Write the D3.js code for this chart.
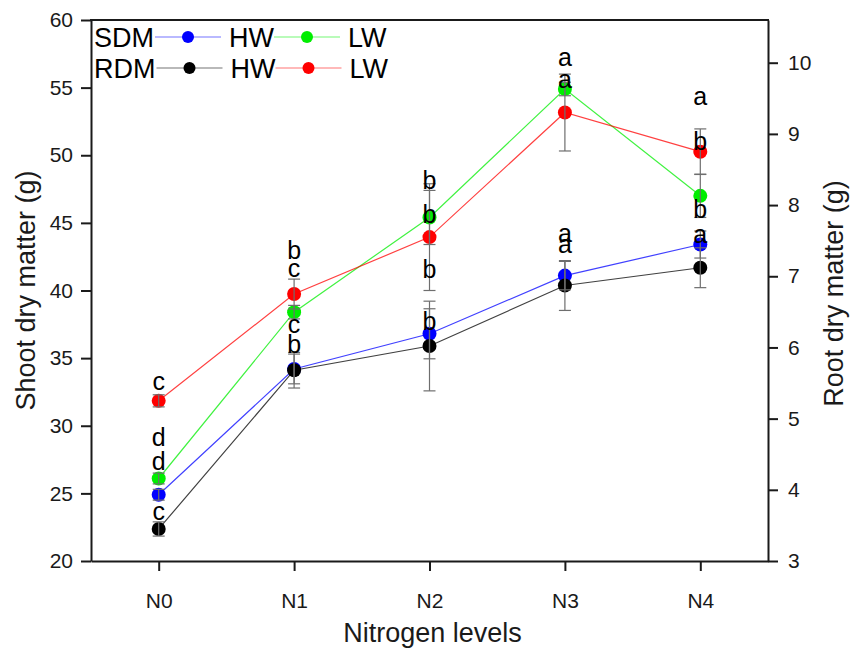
<!DOCTYPE html>
<html>
<head>
<meta charset="utf-8">
<script src="https://cdn.jsdelivr.net/npm/d3@7"></script>
<style>
  html, body { margin: 0; padding: 0; background: #fff; }
  svg { display: block; font-family: "Liberation Sans", Arial, sans-serif; }
</style>
</head>
<body>
<svg id="chart" width="852" height="648"></svg>
<script>
// Nitrogen treatments on the x axis
const categories = ["N0", "N1", "N2", "N3", "N4"];

// Shoot dry matter (left axis, g)
const sdmHW    = [24.9, 34.2, 36.8, 41.1, 43.4];
const sdmHWErr = [0.4, 1.1, 1.85, 1.05, 1.0];
const sdmLW    = [26.1, 38.4, 45.4, 54.9, 47.0];
const sdmLWErr = [0.4, 0.5, 2.0, 0.5, 1.6];

// Root dry matter (right axis, g)
const rdmHW    = [3.45, 5.68, 6.02, 6.87, 7.12];
const rdmHWErr = [0.1, 0.25, 0.63, 0.35, 0.28];
const rdmLW    = [5.25, 6.75, 7.55, 9.30, 8.75];
const rdmLWErr = [0.085, 0.21, 0.75, 0.54, 0.32];

// Tick values
const leftTicks  = [20, 25, 30, 35, 40, 45, 50, 55, 60];
const rightTicks = [3, 4, 5, 6, 7, 8, 9, 10];

// Significance letters per nitrogen level and the left-axis level they sit at
const sigLetters = [
  ["c", "d", "d", "c"],
  ["b", "c", "c", "b"],
  ["b", "b", "b", "b"],
  ["a", "a", "a", "a"],
  ["a", "b", "b", "a"]
];
const sigLevels = [
  [33.26, 29.09, 27.34, 23.65],
  [42.94, 41.64, 37.50, 35.97],
  [48.12, 45.58, 41.57, 37.69],
  [57.19, 55.56, 44.23, 43.36],
  [54.33, 51.00, 45.95, 44.10]
];

const svg = d3.select("#chart");
const plot = { left: 91, right: 768, top: 20, bottom: 561 };

const x  = d3.scalePoint().domain(categories).range([plot.left, plot.right]).padding(0.5);
const yL = d3.scaleLinear().domain([20, 60]).range([plot.bottom, plot.top]);
const yR = d3.scaleLinear().domain([3, 10.6]).range([plot.bottom, plot.top]);

const series = [
  { name: "SDM HW", vals: sdmHW, err: sdmHWErr, y: yL, color: "#0000ff" },
  { name: "SDM LW", vals: sdmLW, err: sdmLWErr, y: yL, color: "#00ee00" },
  { name: "RDM HW", vals: rdmHW, err: rdmHWErr, y: yR, color: "#000000" },
  { name: "RDM LW", vals: rdmLW, err: rdmLWErr, y: yR, color: "#ff0000" }
];

// Connecting lines
const lineGen = s => d3.line().x((d, i) => x(categories[i])).y(d => s.y(d));
svg.append("g").selectAll("path").data(series).join("path")
  .attr("d", s => lineGen(s)(s.vals))
  .attr("fill", "none")
  .attr("stroke", s => s.color)
  .attr("stroke-opacity", 0.75)
  .attr("stroke-width", 1.2);

// Markers
series.forEach(s => {
  svg.append("g").selectAll("circle").data(s.vals).join("circle")
    .attr("cx", (d, i) => x(categories[i]))
    .attr("cy", d => s.y(d))
    .attr("r", 7)
    .attr("fill", s.color);
});

// Error bars
const capW = 6;
series.forEach(s => {
  const g = svg.append("g").attr("stroke", "#6e6e6e").attr("stroke-width", 1.2).attr("fill", "none");
  s.vals.forEach((v, i) => {
    const cx = x(categories[i]);
    const y1 = s.y(v + s.err[i]), y0 = s.y(v - s.err[i]);
    g.append("line").attr("x1", cx).attr("x2", cx).attr("y1", y1).attr("y2", y0);
    g.append("line").attr("x1", cx - capW).attr("x2", cx + capW).attr("y1", y1).attr("y2", y1);
    g.append("line").attr("x1", cx - capW).attr("x2", cx + capW).attr("y1", y0).attr("y2", y0);
  });
});

// Significance letters
const letters = svg.append("g").attr("font-size", 25).attr("text-anchor", "middle").attr("fill", "#000");
categories.forEach((c, i) => {
  sigLetters[i].forEach((t, j) => {
    letters.append("text")
      .attr("x", x(c))
      .attr("y", yL(sigLevels[i][j]))
      .attr("dy", "0.33em")
      .text(t);
  });
});

// Axes
function styleAxis(g, fontSize) {
  g.select(".domain").attr("stroke", "#1a1a1a").attr("stroke-width", 2);
  g.selectAll(".tick line").attr("stroke", "#1a1a1a").attr("stroke-width", 2);
  g.selectAll(".tick text").attr("fill", "#1a1a1a").attr("font-size", fontSize)
    .attr("font-family", "Liberation Sans, Arial, sans-serif");
}

svg.append("g")
  .attr("transform", `translate(${plot.left},0)`)
  .call(d3.axisLeft(yL).tickValues(leftTicks).tickSize(10).tickSizeOuter(0).tickPadding(8))
  .call(g => styleAxis(g, 21));

svg.append("g")
  .attr("transform", `translate(${plot.right},0)`)
  .call(d3.axisRight(yR).tickValues(rightTicks).tickSize(10).tickSizeOuter(0).tickPadding(10))
  .call(g => styleAxis(g, 21));

svg.append("g")
  .attr("transform", `translate(0,${plot.bottom})`)
  .call(d3.axisBottom(x).tickSize(10).tickSizeOuter(0).tickPadding(22))
  .call(g => styleAxis(g, 21));

// Top frame edge
svg.append("line")
  .attr("x1", plot.left - 1).attr("x2", plot.right + 1)
  .attr("y1", plot.top).attr("y2", plot.top)
  .attr("stroke", "#1a1a1a").attr("stroke-width", 2);

// Axis titles
svg.append("text")
  .attr("transform", `translate(35,${(plot.top + plot.bottom) / 2}) rotate(-90)`)
  .attr("text-anchor", "middle").attr("font-size", 27).attr("fill", "#1a1a1a")
  .text("Shoot dry matter (g)");

svg.append("text")
  .attr("transform", `translate(843,${(plot.top + plot.bottom) / 2 + 3}) rotate(-90)`)
  .attr("text-anchor", "middle").attr("font-size", 27).attr("fill", "#1a1a1a")
  .text("Root dry matter (g)");

svg.append("text")
  .attr("x", (plot.left + plot.right) / 2 + 3).attr("y", 642)
  .attr("text-anchor", "middle").attr("font-size", 27).attr("fill", "#1a1a1a")
  .text("Nitrogen levels");

// Legend: two rows, each a group label followed by HW and LW entries
const legendRows = [
  { label: "SDM", entries: [{ text: "HW", color: "#0000ff" }, { text: "LW", color: "#00ee00" }] },
  { label: "RDM", entries: [{ text: "HW", color: "#000000" }, { text: "LW", color: "#ff0000" }] }
];
const legend = svg.append("g").attr("font-size", 27).attr("fill", "#000");
legendRows.forEach((row, r) => {
  const cy = 37 + r * 31;
  let cx = 94;
  const lbl = legend.append("text").attr("x", cx).attr("y", cy).attr("dy", "0.36em").text(row.label);
  cx += lbl.node().getComputedTextLength() + 1;
  row.entries.forEach(e => {
    const len = 66;
    legend.append("line")
      .attr("x1", cx).attr("x2", cx + len).attr("y1", cy).attr("y2", cy)
      .attr("stroke", e.color).attr("stroke-opacity", 0.55).attr("stroke-width", 1.2);
    legend.append("circle").attr("cx", cx + len / 2).attr("cy", cy).attr("r", 6).attr("fill", e.color);
    cx += len + 8;
    const t = legend.append("text").attr("x", cx).attr("y", cy).attr("dy", "0.36em").text(e.text);
    cx += t.node().getComputedTextLength();
  });
});
</script>
</body>
</html>
